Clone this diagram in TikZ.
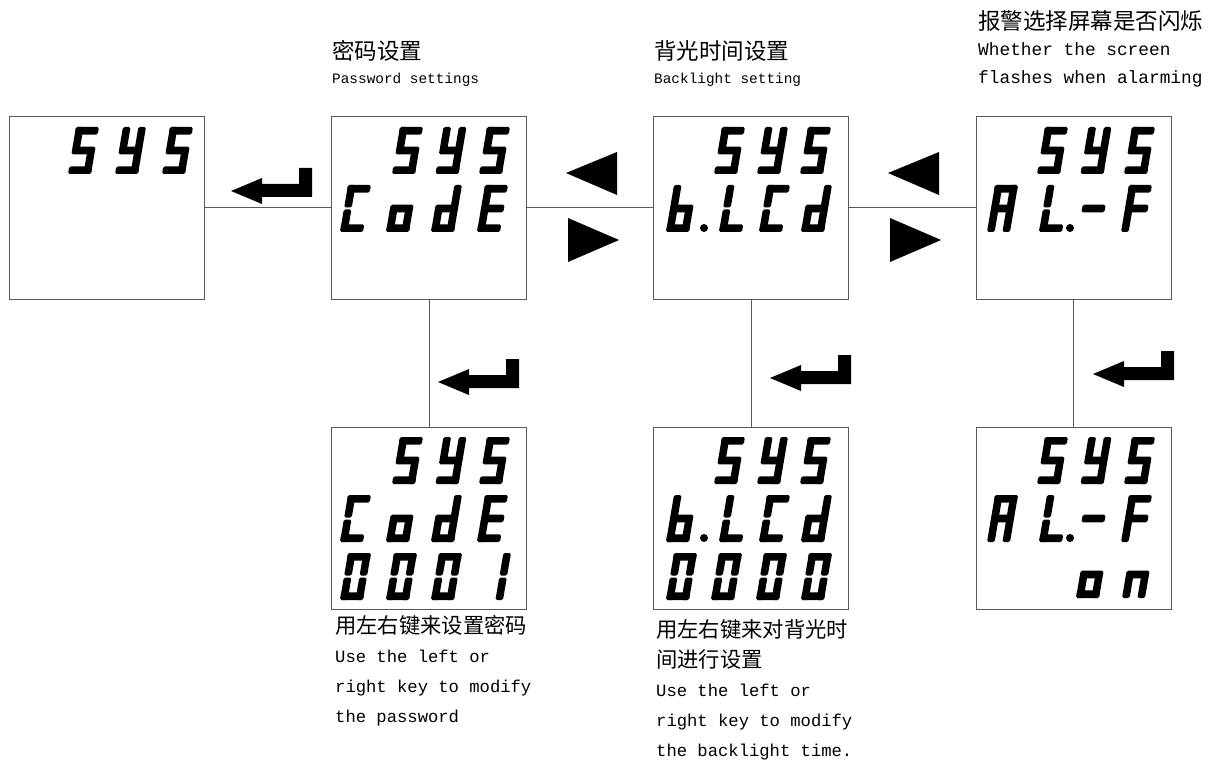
\documentclass[tikz,border=0pt]{standalone}
\usepackage{fontspec}
\newfontfamily\cjkfont{Noto Sans CJK SC}
\newfontfamily\monofont{Liberation Mono}

% seven-segment bars, local coordinates with y pointing up (cell 23 x 47, stroke 7.6)
\tikzset{segink/.style={fill=black, rounded corners=1.6pt}}
\newcommand\segmenta{\fill[segink] (0,39.4) rectangle (23,47);}
\newcommand\segmentd{\fill[segink] (0,0) rectangle (23,7.6);}
\newcommand\segmentg{\fill[segink] (0,19.7) rectangle (23,27.3);}
\newcommand\segmentf{\fill[segink] (0,24.5) rectangle (7.6,47);}
\newcommand\segmente{\fill[segink] (0,0) rectangle (7.6,22.5);}
\newcommand\segmentb{\fill[segink] (15.4,24.5) rectangle (23,47);}
\newcommand\segmentc{\fill[segink] (15.4,0) rectangle (23,22.5);}

% glyphs as lists of lit segments
\newcommand\chS{a,f,g,c,d}
\newcommand\chY{b,c,d,f,g}
\newcommand\chC{a,d,e,f}
\newcommand\cho{c,d,e,g}
\newcommand\chd{b,c,d,e,g}
\newcommand\chE{a,d,e,f,g}
\newcommand\chb{c,d,e,f,g}
\newcommand\chL{d,e,f}
\newcommand\chA{a,b,c,e,f,g}
\newcommand\chminus{g}
\newcommand\chF{a,e,f,g}
\newcommand\chzero{a,b,c,d,e,f}
\newcommand\chone{b,c}
\newcommand\chn{c,e,g}

% one slanted digit: bottom-left corner x, bottom y, glyph
\newcommand\sseg[3]{%
  \begin{scope}[shift={(#1,#2)},xslant=0.17,yscale=-1]
    \foreach \sg in #3 {\csname segment\sg\endcsname}
  \end{scope}}

% return key symbol with its tip at (x,y)
\newcommand\enterkey[2]{%
  \fill[shift={(#1,#2)}] (0,0) -- (31,-13) -- (31,-7) -- (68,-7) -- (68,-23)
    -- (81,-23) -- (81,6) -- (31,6) -- (31,13) -- cycle;}

\begin{document}
\begin{tikzpicture}[x=1pt,y=-1pt,
  panel/.style={draw=black!65, line width=1pt, minimum width=195pt,
    minimum height=182pt, inner sep=0pt, outer sep=0pt},
  link/.style={draw=black!65, line width=1pt},
  zhtop/.style={font=\cjkfont\fontsize{22.5}{27}\selectfont, anchor=base west, inner sep=0pt},
  zhnote/.style={font=\cjkfont\fontsize{21.3}{26}\selectfont, anchor=base west, inner sep=0pt},
  ensmall/.style={font=\monofont\fontsize{14.4}{17}\selectfont, anchor=base west, inner sep=0pt},
  enmid/.style={font=\monofont\fontsize{17.8}{21}\selectfont, anchor=base west, inner sep=0pt},
  ennote/.style={font=\monofont\fontsize{17.2}{21}\selectfont, anchor=base west, inner sep=0pt}]
\useasboundingbox (0,0) rectangle (1218,762);

% display panels
\node[panel] (p1) at (106.5,208) {};
\node[panel] (p2) at (429,208) {};
\node[panel] (p3) at (751,208) {};
\node[panel] (p4) at (1073.5,208) {};
\node[panel] (p5) at (429,518) {};
\node[panel] (p6) at (751,518) {};
\node[panel] (p7) at (1073.5,518) {};

% connections
\draw[link] (p1) -- (p2);
\draw[link] (p2) -- (p3);
\draw[link] (p3) -- (p4);
\draw[link] (p2) -- (p5);
\draw[link] (p3) -- (p6);
\draw[link] (p4) -- (p7);

% key symbols
\enterkey{231}{191}
\enterkey{438}{382}
\enterkey{770}{378}
\enterkey{1093}{374}
\fill (566,173) -- (617,152) -- (617,195) -- cycle;
\fill (568,218) -- (568,262) -- (619,240) -- cycle;
\fill (888,173) -- (939,152) -- (939,195) -- cycle;
\fill (890,218) -- (890,262) -- (941,240) -- cycle;

% panel 1: SYS
\sseg{68}{174}{\chS}\sseg{115}{174}{\chY}\sseg{162}{174}{\chS}

% panel 2: SYS / CodE
\sseg{392}{174}{\chS}\sseg{435.5}{174}{\chY}\sseg{479}{174}{\chS}
\sseg{340}{232}{\chC}\sseg{386}{232}{\cho}\sseg{431}{232}{\chd}\sseg{477}{232}{\chE}

% panel 3: SYS / b.LCd
\sseg{714}{174}{\chS}\sseg{757}{174}{\chY}\sseg{800}{174}{\chS}
\sseg{666}{232}{\chb}\sseg{719}{232}{\chL}\sseg{759}{232}{\chC}\sseg{801}{232}{\chd}
\fill (704,228) circle (4);

% panel 4: SYS / AL.-F
\sseg{1037}{174}{\chS}\sseg{1080.5}{174}{\chY}\sseg{1124}{174}{\chS}
\sseg{987}{232}{\chA}\sseg{1039}{232}{\chL}\sseg{1078}{232}{\chminus}\sseg{1121}{232}{\chF}
\fill (1070,228) circle (4);

% panel 5: SYS / CodE / 0001
\sseg{392}{484}{\chS}\sseg{435.5}{484}{\chY}\sseg{479}{484}{\chS}
\sseg{340}{542}{\chC}\sseg{386}{542}{\cho}\sseg{431}{542}{\chd}\sseg{477}{542}{\chE}
\sseg{340}{600}{\chzero}\sseg{386}{600}{\chzero}\sseg{431}{600}{\chzero}\sseg{480}{600}{\chone}

% panel 6: SYS / b.LCd / 0000
\sseg{714}{484}{\chS}\sseg{757}{484}{\chY}\sseg{800}{484}{\chS}
\sseg{666}{542}{\chb}\sseg{719}{542}{\chL}\sseg{759}{542}{\chC}\sseg{801}{542}{\chd}
\fill (704,538) circle (4);
\sseg{666}{600}{\chzero}\sseg{711}{600}{\chzero}\sseg{756}{600}{\chzero}\sseg{801}{600}{\chzero}

% panel 7: SYS / AL.-F / on
\sseg{1037}{484}{\chS}\sseg{1080.5}{484}{\chY}\sseg{1124}{484}{\chS}
\sseg{987}{542}{\chA}\sseg{1039}{542}{\chL}\sseg{1078}{542}{\chminus}\sseg{1121}{542}{\chF}
\fill (1070,538) circle (4);
\sseg{1076}{598}{\cho}\sseg{1122}{598}{\chn}

% captions above
\node[zhtop] (c2) at (332,60) {密码设置};
\node[ensmall] (c2e) at (332,84) {Password settings};
\node[zhtop] (c3) at (654,60) {背光时间设置};
\node[ensmall] (c3e) at (654,84) {Backlight setting};
\node[zhtop] (c4) at (978,30) {报警选择屏幕是否闪烁};
\node[enmid] (c4e) at (978,56) {Whether the screen};
\node[enmid] (c4f) at (978,84) {flashes when alarming};

% notes below
\node[zhnote] (n5) at (335,633) {用左右键来设置密码};
\node[ennote] (n5a) at (335,662) {Use the left or};
\node[ennote] (n5b) at (335,692) {right key to modify};
\node[ennote] (n5c) at (335,722) {the password};
\node[zhnote] (n6) at (656,637) {用左右键来对背光时};
\node[zhnote] (n6b) at (656,667) {间进行设置};
\node[ennote] (n6c) at (656,696) {Use the left or};
\node[ennote] (n6d) at (656,726) {right key to modify};
\node[ennote] (n6e) at (656,756) {the backlight time.};
\end{tikzpicture}
\end{document}
